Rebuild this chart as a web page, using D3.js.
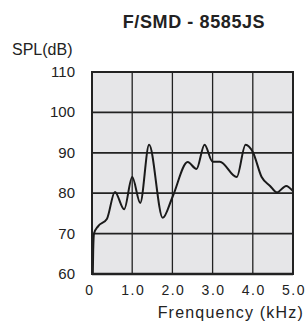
<!DOCTYPE html>
<html>
<head>
<meta charset="utf-8">
<script src="https://cdn.jsdelivr.net/npm/d3@7.9.0/dist/d3.min.js"></script>
<style>
  body { margin: 0; background: #fff; }
  text { font-family: "Liberation Sans", Arial, sans-serif; fill: #222; }
</style>
</head>
<body>
<div id="chart"></div>
<script>
// Frequency response (kHz, dB)
const freq = [0.02, 0.03, 0.05, 0.15, 0.37, 0.57, 0.80, 1.0, 1.2, 1.42, 1.76, 2.0, 2.38, 2.6, 2.8, 3.0, 3.18, 3.6, 3.82, 4.0, 4.22, 4.43, 4.6, 4.83, 5.0];
const spl  = [60, 66, 70, 71.8, 73.6, 80.3, 76, 84, 77.6, 92, 73.9, 79, 87.7, 86, 92, 87.8, 87.8, 84, 92, 90.2, 84, 81.8, 80.2, 81.8, 80.5];

const xTicks = [0, 1, 2, 3, 4, 5];
const xTickLabels = ["0", "1.0", "2.0", "3.0", "4.0", "5.0"];
const yTicks = [60, 70, 80, 90, 100, 110];

const W = 307, H = 323;
const plot = { left: 92, right: 293, top: 72, bottom: 274 };

const svg = d3.select("#chart").append("svg")
  .attr("width", W)
  .attr("height", H);

const x = d3.scaleLinear().domain([0, 5]).range([plot.left, plot.right]);
const y = d3.scaleLinear().domain([60, 110]).range([plot.bottom, plot.top]);

// background
svg.append("rect")
  .attr("x", plot.left).attr("y", plot.top)
  .attr("width", plot.right - plot.left)
  .attr("height", plot.bottom - plot.top)
  .attr("fill", "#e6e6e8");

// grid
svg.selectAll(".hgrid").data(yTicks.slice(1, -1)).enter().append("line")
  .attr("x1", plot.left).attr("x2", plot.right)
  .attr("y1", d => y(d)).attr("y2", d => y(d))
  .attr("stroke", "#222").attr("stroke-width", 1.8);

svg.selectAll(".vgrid").data(xTicks.slice(1, -1)).enter().append("line")
  .attr("x1", d => x(d)).attr("x2", d => x(d))
  .attr("y1", plot.top).attr("y2", plot.bottom)
  .attr("stroke", "#222").attr("stroke-width", 1.3);

// curve
const line = d3.line()
  .x((d, i) => x(freq[i]))
  .y(d => y(d))
  .curve(d3.curveMonotoneX);

svg.append("path")
  .datum(spl)
  .attr("fill", "none")
  .attr("stroke", "#1a1a1a")
  .attr("stroke-width", 2)
  .attr("d", line);

// frame
svg.append("rect")
  .attr("x", plot.left).attr("y", plot.top)
  .attr("width", plot.right - plot.left)
  .attr("height", plot.bottom - plot.top)
  .attr("fill", "none")
  .attr("stroke", "#222").attr("stroke-width", 2);
svg.append("line")
  .attr("x1", plot.left).attr("x2", plot.right)
  .attr("y1", plot.bottom).attr("y2", plot.bottom)
  .attr("stroke", "#222").attr("stroke-width", 2.5);

// y tick labels
svg.selectAll(".ylab").data(yTicks).enter().append("text")
  .attr("x", 75)
  .attr("y", d => y(d) + 5)
  .attr("text-anchor", "end")
  .style("font-size", "15px")
  .text(d => d);

// x tick labels
svg.selectAll(".xlab").data(xTicks).enter().append("text")
  .attr("x", (d, i) => x(d) + (i === 0 ? -2 : 1))
  .attr("y", 295)
  .attr("text-anchor", "middle")
  .style("font-size", "14px")
  .style("letter-spacing", "1.5px")
  .text((d, i) => xTickLabels[i]);

// titles
svg.append("text")
  .attr("x", 194).attr("y", 28)
  .attr("text-anchor", "middle")
  .style("font-size", "18px")
  .style("font-weight", "bold")
  .style("letter-spacing", "0.6px")
  .text("F/SMD - 8585JS");

svg.append("text")
  .attr("x", 12).attr("y", 55)
  .style("font-size", "16px")
  .text("SPL(dB)");

svg.append("text")
  .attr("x", 304).attr("y", 318)
  .attr("text-anchor", "end")
  .style("font-size", "16px")
  .style("letter-spacing", "1.2px")
  .text("Frenquency (kHz)");
</script>
</body>
</html>
